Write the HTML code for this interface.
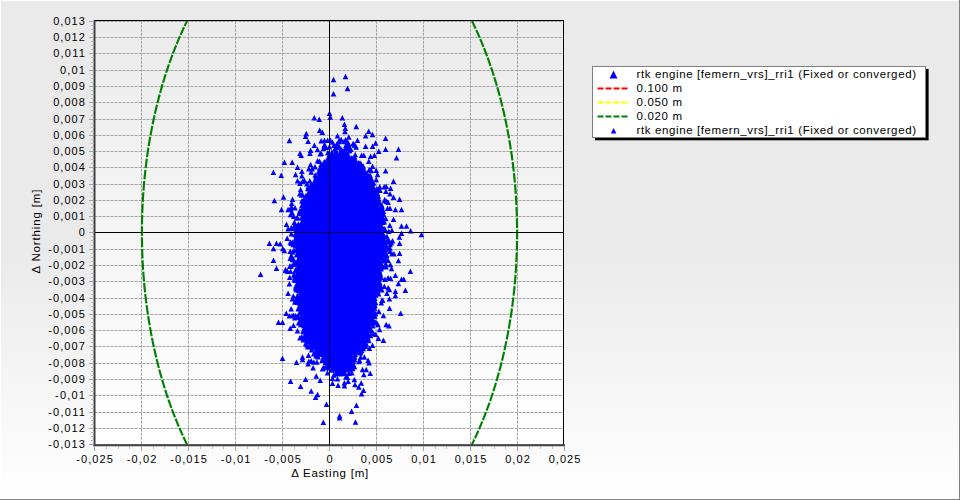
<!DOCTYPE html>
<html><head><meta charset="utf-8"><title>chart</title>
<style>html,body{margin:0;padding:0;background:#fff;}body{width:960px;height:500px;overflow:hidden;}svg{display:block;}text{font-family:"Liberation Sans",sans-serif;font-size:11.5px;fill:#000;}text.a{font-size:11px;}</style>
</head><body>
<svg width="960" height="500" viewBox="0 0 960 500">
<defs>
<linearGradient id="pg" x1="0" y1="0" x2="0" y2="1"><stop offset="0" stop-color="#eaeaea"/><stop offset="0.5" stop-color="#eaeaea"/><stop offset="1" stop-color="#ffffff"/></linearGradient>
<linearGradient id="wg" x1="0" y1="0" x2="0" y2="1"><stop offset="0" stop-color="#ebebeb"/><stop offset="1" stop-color="#ffffff"/></linearGradient>
<clipPath id="pc"><rect x="95" y="21" width="469" height="424"/></clipPath>
</defs>
<rect x="0" y="0" width="960" height="500" fill="url(#pg)"/>
<rect x="0" y="0" width="960" height="1" fill="#ffffff"/>
<rect x="0" y="0" width="1" height="500" fill="#ffffff"/>
<rect x="0" y="499" width="960" height="1" fill="#808080"/>
<rect x="959" y="0" width="1" height="500" fill="#808080"/>
<rect x="95" y="21" width="469" height="424" fill="url(#wg)"/>
<path d="M94.6 21.5H564M94.6 37.5H564M94.6 53.5H564M94.6 70.5H564M94.6 86.5H564M94.6 102.5H564M94.6 119.5H564M94.6 135.5H564M94.6 151.5H564M94.6 167.5H564M94.6 184.5H564M94.6 200.5H564M94.6 216.5H564M94.6 249.5H564M94.6 265.5H564M94.6 281.5H564M94.6 298.5H564M94.6 314.5H564M94.6 330.5H564M94.6 346.5H564M94.6 363.5H564M94.6 379.5H564M94.6 395.5H564M94.6 412.5H564M94.6 428.5H564M94.6 444.5H564" stroke="#a4a4a4" stroke-width="1" stroke-dasharray="3 1" fill="none"/>
<path d="M141.5 20.75V445M188.5 20.75V445M235.5 20.75V445M282.5 20.75V445M376.5 20.75V445M423.5 20.75V445M470.5 20.75V445M517.5 20.75V445" stroke="#a4a4a4" stroke-width="1" stroke-dasharray="3 1" fill="none"/>
<path d="M95 232.5H564M329.5 21V445" stroke="#000" stroke-width="1" fill="none"/>
<g clip-path="url(#pc)"><path d="M517.06 239.28L517.08 236.87L517.10 234.45L517.10 232.04L517.09 229.63M517.08 227.92L517.05 225.51L517.02 223.10L516.97 220.68L516.91 218.27M516.87 216.57L516.79 214.16L516.71 211.75L516.61 209.34L516.51 206.94M516.43 205.24L516.31 202.84L516.17 200.43L516.03 198.03L515.88 195.63M515.76 193.94L515.59 191.55L515.41 189.15L515.22 186.76L515.02 184.37M514.87 182.69L514.65 180.31L514.42 177.93L514.18 175.55L513.93 173.17M513.75 171.50L513.48 169.13L513.20 166.77L512.91 164.40L512.62 162.05M512.40 160.38L512.09 158.03L511.76 155.69L511.43 153.34L511.08 151.01M510.83 149.36L510.47 147.03L510.10 144.70L509.72 142.38L509.33 140.06M509.05 138.43L508.64 136.12L508.22 133.82L507.79 131.53L507.35 129.23M507.04 127.62L506.58 125.34L506.12 123.06L505.65 120.80L505.16 118.53M504.82 116.94L504.31 114.69L503.81 112.44L503.29 110.20L502.76 107.97M502.38 106.40L501.83 104.18L501.28 101.96L500.71 99.76L500.14 97.56M499.73 96.01L499.14 93.82L498.54 91.64L497.93 89.47L497.32 87.31M496.88 85.79L496.24 83.64L495.60 81.50L494.95 79.37L494.29 77.24M493.82 75.75L493.14 73.64L492.46 71.54L491.76 69.44L491.06 67.36M490.56 65.90L489.84 63.83L489.11 61.77L488.38 59.72L487.63 57.68M487.10 56.25L486.34 54.23L485.57 52.21L484.80 50.21L484.01 48.22M483.45 46.82L482.65 44.84L481.85 42.88L481.03 40.92L480.21 38.98M479.62 37.61L478.78 35.68L477.93 33.77L477.08 31.86L476.22 29.97M475.60 28.64L474.72 26.77L473.84 24.91L472.95 23.05L472.05 21.21M471.41 19.92L470.49 18.10L469.57 16.29L468.64 14.50L467.70 12.71M467.04 11.46L466.09 9.70L465.13 7.95L464.16 6.21L463.19 4.48M462.50 3.27L461.52 1.57L460.52 -0.12L459.52 -1.80L458.52 -3.47M457.80 -4.64L456.78 -6.28L455.76 -7.91L454.72 -9.53L453.68 -11.14M452.95 -12.26L451.90 -13.84L450.84 -15.41L449.77 -16.96L448.70 -18.50M447.94 -19.58L446.86 -21.10L445.77 -22.60L444.68 -24.09L443.57 -25.57M442.79 -26.60L441.68 -28.05L440.56 -29.49L439.44 -30.91L438.31 -32.31M437.50 -33.30L436.36 -34.68L435.22 -36.05L434.07 -37.40L432.91 -38.74M432.09 -39.68L430.92 -40.99L429.74 -42.28L428.57 -43.57L427.38 -44.83M426.54 -45.72L425.35 -46.96L424.15 -48.19L422.95 -49.40L421.74 -50.59M420.88 -51.42L419.66 -52.59L418.44 -53.74L417.21 -54.88L415.98 -56.00M415.11 -56.78L413.87 -57.87L412.62 -58.95L411.37 -60.01L410.12 -61.06M409.23 -61.79L407.97 -62.80L406.70 -63.81L405.43 -64.79L404.16 -65.76M403.25 -66.43L401.97 -67.37L400.69 -68.30L399.40 -69.21L398.10 -70.10M397.19 -70.72L395.89 -71.58L394.59 -72.42L393.28 -73.25L391.97 -74.07M391.04 -74.63L389.72 -75.41L388.40 -76.18L387.08 -76.93L385.76 -77.66M384.82 -78.17L383.49 -78.87L382.15 -79.56L380.82 -80.22L379.48 -80.88M378.53 -81.33L377.18 -81.95L375.84 -82.55L374.49 -83.14L373.14 -83.71M372.18 -84.10L370.82 -84.64L369.46 -85.16L368.10 -85.67L366.74 -86.16M365.78 -86.49L364.41 -86.95L363.04 -87.39L361.67 -87.81L360.30 -88.22M359.33 -88.49L357.96 -88.87L356.58 -89.23L355.20 -89.57L353.82 -89.89M352.85 -90.10L351.47 -90.40L350.09 -90.67L348.70 -90.92L347.32 -91.16M346.34 -91.32L344.95 -91.53L343.57 -91.72L342.18 -91.89L340.79 -92.04M339.81 -92.14L338.42 -92.27L337.03 -92.37L335.64 -92.46L334.25 -92.53M333.27 -92.57L331.87 -92.61L330.48 -92.63L329.09 -92.63L327.70 -92.62M326.72 -92.60L325.33 -92.55L323.93 -92.49L322.54 -92.41L321.15 -92.31M320.17 -92.23L318.78 -92.10L317.39 -91.96L316.01 -91.79L314.62 -91.61M313.64 -91.47L312.25 -91.26L310.87 -91.03L309.48 -90.78L308.10 -90.51M307.12 -90.31L305.74 -90.01L304.36 -89.70L302.99 -89.37L301.61 -89.02M300.64 -88.76L299.26 -88.38L297.89 -87.98L296.52 -87.57L295.15 -87.13M294.19 -86.82L292.82 -86.35L291.46 -85.87L290.10 -85.38L288.74 -84.86M287.78 -84.48L286.42 -83.94L285.07 -83.38L283.72 -82.80L282.37 -82.20M281.42 -81.77L280.08 -81.14L278.74 -80.49L277.40 -79.83L276.06 -79.15M275.12 -78.66L273.79 -77.96L272.46 -77.23L271.14 -76.49L269.82 -75.73M268.89 -75.18L267.57 -74.39L266.26 -73.59L264.95 -72.77L263.65 -71.93M262.73 -71.33L261.43 -70.46L260.14 -69.57L258.84 -68.67L257.56 -67.76M256.65 -67.10L255.37 -66.15L254.09 -65.19L252.82 -64.21L251.55 -63.22M250.66 -62.51L249.40 -61.48L248.15 -60.45L246.89 -59.39L245.65 -58.32M244.77 -57.56L243.53 -56.46L242.30 -55.34L241.07 -54.21L239.84 -53.07M238.98 -52.25L237.76 -51.08L236.55 -49.89L235.35 -48.69L234.14 -47.47M233.30 -46.60L232.11 -45.35L230.92 -44.09L229.74 -42.81L228.56 -41.52M227.74 -40.60L226.57 -39.29L225.41 -37.95L224.26 -36.61L223.11 -35.25M222.30 -34.28L221.16 -32.89L220.03 -31.49L218.90 -30.07L217.78 -28.64M216.99 -27.62L215.88 -26.17L214.78 -24.70L213.68 -23.22L212.59 -21.72M211.82 -20.66L210.74 -19.14L209.67 -17.60L208.60 -16.05L207.54 -14.49M206.79 -13.38L205.75 -11.79L204.70 -10.19L203.67 -8.58L202.64 -6.96M201.92 -5.80L200.90 -4.15L199.89 -2.49L198.89 -0.82L197.89 0.87M197.19 2.07L196.21 3.78L195.24 5.50L194.27 7.23L193.31 8.98M192.63 10.22L191.69 11.98L190.75 13.76L189.81 15.55L188.89 17.36M188.24 18.64L187.33 20.46L186.42 22.29L185.53 24.14L184.64 26.00M184.02 27.32L183.14 29.20L182.28 31.08L181.42 32.98L180.57 34.89M179.97 36.25L179.14 38.18L178.31 40.12L177.49 42.07L176.68 44.03M176.11 45.42L175.31 47.40L174.52 49.39L173.74 51.39L172.97 53.40M172.43 54.82L171.68 56.84L170.93 58.88L170.19 60.93L169.46 62.98M168.95 64.44L168.23 66.51L167.53 68.58L166.83 70.67L166.14 72.77M165.66 74.26L164.99 76.37L164.32 78.49L163.67 80.62L163.02 82.76M162.57 84.27L161.94 86.42L161.32 88.58L160.71 90.75L160.10 92.92M159.68 94.47L159.10 96.65L158.52 98.85L157.95 101.05L157.39 103.26M157.01 104.83L156.46 107.05L155.93 109.28L155.41 111.52L154.89 113.76M154.54 115.35L154.04 117.60L153.55 119.86L153.07 122.13L152.61 124.40M152.28 126.01L151.83 128.29L151.39 130.58L150.96 132.88L150.53 135.18M150.24 136.80L149.84 139.11L149.44 141.43L149.05 143.74L148.68 146.07M148.42 147.71L148.06 150.04L147.71 152.38L147.37 154.72L147.05 157.07M146.82 158.72L146.51 161.08L146.21 163.43L145.91 165.79L145.63 168.16M145.44 169.83L145.18 172.20L144.92 174.57L144.68 176.95L144.45 179.33M144.29 181.01L144.07 183.39L143.86 185.78L143.67 188.17L143.48 190.56M143.36 192.25L143.19 194.65L143.03 197.04L142.89 199.44L142.75 201.85M142.66 203.54L142.54 205.95L142.43 208.35L142.33 210.76L142.24 213.17M142.18 214.87L142.11 217.28L142.05 219.69L142.00 222.10L141.96 224.52M141.94 226.22L141.92 228.63L141.90 231.05L141.90 233.46L141.91 235.87M141.92 237.58L141.95 239.99L141.98 242.40L142.03 244.82L142.09 247.23M142.13 248.93L142.21 251.34L142.29 253.75L142.39 256.16L142.49 258.56M142.57 260.26L142.69 262.66L142.83 265.07L142.97 267.47L143.12 269.87M143.24 271.56L143.41 273.95L143.59 276.35L143.78 278.74L143.98 281.13M144.13 282.81L144.35 285.19L144.58 287.57L144.82 289.95L145.07 292.33M145.25 294.00L145.52 296.37L145.80 298.73L146.09 301.10L146.38 303.45M146.60 305.12L146.91 307.47L147.24 309.81L147.57 312.16L147.92 314.49M148.17 316.14L148.53 318.47L148.90 320.80L149.28 323.12L149.67 325.44M149.95 327.07L150.36 329.38L150.78 331.68L151.21 333.97L151.65 336.27M151.96 337.88L152.42 340.16L152.88 342.44L153.35 344.70L153.84 346.97M154.18 348.56L154.69 350.81L155.19 353.06L155.71 355.30L156.24 357.53M156.62 359.10L157.17 361.32L157.72 363.54L158.29 365.74L158.86 367.94M159.27 369.49L159.86 371.68L160.46 373.86L161.07 376.03L161.68 378.19M162.12 379.71L162.76 381.86L163.40 384.00L164.05 386.13L164.71 388.26M165.18 389.75L165.86 391.86L166.54 393.96L167.24 396.06L167.94 398.14M168.44 399.60L169.16 401.67L169.89 403.73L170.62 405.78L171.37 407.82M171.90 409.25L172.66 411.27L173.43 413.29L174.20 415.29L174.99 417.28M175.55 418.68L176.35 420.66L177.15 422.62L177.97 424.58L178.79 426.52M179.38 427.89L180.22 429.82L181.07 431.73L181.92 433.64L182.78 435.53M183.40 436.86L184.28 438.73L185.16 440.59L186.05 442.45L186.95 444.29M187.59 445.58L188.51 447.40L189.43 449.21L190.36 451.00L191.30 452.79M191.96 454.04L192.91 455.80L193.87 457.55L194.84 459.29L195.81 461.02M196.50 462.23L197.48 463.93L198.48 465.62L199.48 467.30L200.48 468.97M201.20 470.14L202.22 471.78L203.24 473.41L204.28 475.03L205.32 476.64M206.05 477.76L207.10 479.34L208.16 480.91L209.23 482.46L210.30 484.00M211.06 485.08L212.14 486.60L213.23 488.10L214.32 489.59L215.43 491.07M216.21 492.10L217.32 493.55L218.44 494.99L219.56 496.41L220.69 497.81M221.50 498.80L222.64 500.18L223.78 501.55L224.93 502.90L226.09 504.24M226.91 505.18L228.08 506.49L229.26 507.78L230.43 509.07L231.62 510.33M232.46 511.22L233.65 512.46L234.85 513.69L236.05 514.90L237.26 516.09M238.12 516.92L239.34 518.09L240.56 519.24L241.79 520.38L243.02 521.50M243.89 522.28L245.13 523.37L246.38 524.45L247.63 525.51L248.88 526.56M249.77 527.29L251.03 528.30L252.30 529.31L253.57 530.29L254.84 531.26M255.75 531.93L257.03 532.87L258.31 533.80L259.60 534.71L260.90 535.60M261.81 536.22L263.11 537.08L264.41 537.92L265.72 538.75L267.03 539.57M267.96 540.13L269.28 540.91L270.60 541.68L271.92 542.43L273.24 543.16M274.18 543.67L275.51 544.37L276.85 545.06L278.18 545.72L279.52 546.38M280.47 546.83L281.82 547.45L283.16 548.05L284.51 548.64L285.86 549.21M286.82 549.60L288.18 550.14L289.54 550.66L290.90 551.17L292.26 551.66M293.22 551.99L294.59 552.45L295.96 552.89L297.33 553.31L298.70 553.72M299.67 553.99L301.04 554.37L302.42 554.73L303.80 555.07L305.18 555.39M306.15 555.60L307.53 555.90L308.91 556.17L310.30 556.42L311.68 556.66M312.66 556.82L314.05 557.03L315.43 557.22L316.82 557.39L318.21 557.54M319.19 557.64L320.58 557.77L321.97 557.87L323.36 557.96L324.75 558.03M325.73 558.07L327.13 558.11L328.52 558.13L329.91 558.13L331.30 558.12M332.28 558.10L333.67 558.05L335.07 557.99L336.46 557.91L337.85 557.81M338.83 557.73L340.22 557.60L341.61 557.46L342.99 557.29L344.38 557.11M345.36 556.97L346.75 556.76L348.13 556.53L349.52 556.28L350.90 556.01M351.88 555.81L353.26 555.51L354.64 555.20L356.01 554.87L357.39 554.52M358.36 554.26L359.74 553.88L361.11 553.48L362.48 553.07L363.85 552.63M364.81 552.32L366.18 551.85L367.54 551.37L368.90 550.88L370.26 550.36M371.22 549.98L372.58 549.44L373.93 548.88L375.28 548.30L376.63 547.70M377.58 547.27L378.92 546.64L380.26 545.99L381.60 545.33L382.94 544.65M383.88 544.16L385.21 543.46L386.54 542.73L387.86 541.99L389.18 541.23M390.11 540.68L391.43 539.89L392.74 539.09L394.05 538.27L395.35 537.43M396.27 536.83L397.57 535.96L398.86 535.07L400.16 534.17L401.44 533.26M402.35 532.60L403.63 531.65L404.91 530.69L406.18 529.71L407.45 528.72M408.34 528.01L409.60 526.98L410.85 525.95L412.11 524.89L413.35 523.82M414.23 523.06L415.47 521.96L416.70 520.84L417.93 519.71L419.16 518.57M420.02 517.75L421.24 516.58L422.45 515.39L423.65 514.19L424.86 512.97M425.70 512.10L426.89 510.85L428.08 509.59L429.26 508.31L430.44 507.02M431.26 506.10L432.43 504.79L433.59 503.45L434.74 502.11L435.89 500.75M436.70 499.78L437.84 498.39L438.97 496.99L440.10 495.57L441.22 494.14M442.01 493.12L443.12 491.67L444.22 490.20L445.32 488.72L446.41 487.22M447.18 486.16L448.26 484.64L449.33 483.10L450.40 481.55L451.46 479.99M452.21 478.88L453.25 477.29L454.30 475.69L455.33 474.08L456.36 472.46M457.08 471.30L458.10 469.65L459.11 467.99L460.11 466.32L461.11 464.63M461.81 463.43L462.79 461.72L463.76 460.00L464.73 458.27L465.69 456.52M466.37 455.28L467.31 453.52L468.25 451.74L469.19 449.95L470.11 448.14M470.76 446.86L471.67 445.04L472.58 443.21L473.47 441.36L474.36 439.50M474.98 438.18L475.86 436.30L476.72 434.42L477.58 432.52L478.43 430.61M479.03 429.25L479.86 427.32L480.69 425.38L481.51 423.43L482.32 421.47M482.89 420.08L483.69 418.10L484.48 416.11L485.26 414.11L486.03 412.10M486.57 410.68L487.32 408.66L488.07 406.62L488.81 404.57L489.54 402.52M490.05 401.06L490.77 398.99L491.47 396.92L492.17 394.83L492.86 392.73M493.34 391.24L494.01 389.13L494.68 387.01L495.33 384.88L495.98 382.74M496.43 381.23L497.06 379.08L497.68 376.92L498.29 374.75L498.90 372.58M499.32 371.03L499.90 368.85L500.48 366.65L501.05 364.45L501.61 362.24M501.99 360.67L502.54 358.45L503.07 356.22L503.59 353.98L504.11 351.74M504.46 350.15L504.96 347.90L505.45 345.64L505.93 343.37L506.39 341.10M506.72 339.49L507.17 337.21L507.61 334.92L508.04 332.62L508.47 330.32M508.76 328.70L509.16 326.39L509.56 324.07L509.95 321.76L510.32 319.43M510.58 317.79L510.94 315.46L511.29 313.12L511.63 310.78L511.95 308.43M512.18 306.78L512.49 304.42L512.79 302.07L513.09 299.71L513.37 297.34M513.56 295.67L513.82 293.30L514.08 290.93L514.32 288.55L514.55 286.17M514.71 284.49L514.93 282.11L515.14 279.72L515.33 277.33L515.52 274.94M515.64 273.25L515.81 270.85L515.97 268.46L516.11 266.06L516.25 263.65M516.34 261.96L516.46 259.55L516.57 257.15L516.67 254.74L516.76 252.33M516.82 250.63L516.89 248.22L516.95 245.81L517.00 243.40L517.04 240.98M517.06 239.28L517.08 236.87L517.10 234.45L517.10 232.04L517.09 229.63" stroke="#008000" stroke-width="2.15" fill="none"/></g>
<g clip-path="url(#pc)" fill="#0000ff">
<path d="M341.3 153.4L346.0 155.3L351.2 158.7L358.8 165.8L365.9 178.1L370.6 184.7L375.3 191.5L379.1 198.3L377.2 206.2L379.1 212.0L381.0 218.4L380.0 230.6L382.4 236.5L384.3 242.4L384.8 246.5L383.3 252.6L380.0 258.7L379.6 264.8L380.5 271.0L380.0 283.2L376.5 289.3L375.8 295.2L373.9 301.0L371.8 305.2L372.4 317.4L370.6 323.5L367.0 329.6L365.3 335.7L362.6 341.9L362.1 344.3L358.3 350.4L354.5 356.5L354.1 362.6L350.3 368.5L342.7 372.4L335.2 368.5L328.6 362.6L321.9 356.5L317.2 350.4L310.1 344.3L307.8 338.2L304.5 334.5L305.7 328.4L303.9 322.3L302.6 316.2L300.3 310.1L302.1 304.0L302.6 297.8L299.8 291.7L298.6 285.6L297.9 279.5L297.9 269.7L298.6 263.6L298.6 251.4L296.9 245.3L297.4 239.2L297.9 233.1L300.9 227.0L302.1 220.8L301.6 217.2L302.1 211.1L303.3 205.0L307.3 198.8L309.7 192.7L313.0 186.6L315.8 180.5L319.1 174.4L322.4 168.3L325.7 162.2L329.5 158.3L333.8 153.9z"/>
<path d="M289.4 137.8l2.8 5.5h-5.6zM305.6 133.6l2.8 5.5h-5.6zM308.1 138.6l2.8 5.5h-5.6zM300.0 150.5l2.8 5.5h-5.6zM301.2 152.4l2.8 5.5h-5.6zM310.6 147.4l2.8 5.5h-5.6zM310.0 150.5l2.8 5.5h-5.6zM284.4 159.5l2.8 5.5h-5.6zM292.2 159.5l2.8 5.5h-5.6zM310.6 161.8l2.8 5.5h-5.6zM297.5 164.5l2.8 5.5h-5.6zM295.6 171.8l2.8 5.5h-5.6zM301.9 168.6l2.8 5.5h-5.6zM281.2 172.4l2.8 5.5h-5.6zM297.5 178.0l2.8 5.5h-5.6zM301.9 173.0l2.8 5.5h-5.6zM306.9 181.1l2.8 5.5h-5.6zM357.5 137.4l2.8 5.5h-5.6zM365.6 133.0l2.8 5.5h-5.6zM372.5 131.8l2.8 5.5h-5.6zM385.6 135.5l2.8 5.5h-5.6zM365.6 143.6l2.8 5.5h-5.6zM375.6 140.2l2.8 5.5h-5.6zM372.5 143.6l2.8 5.5h-5.6zM385.6 146.5l2.8 5.5h-5.6zM378.8 148.6l2.8 5.5h-5.6zM398.5 146.5l2.8 5.5h-5.6zM396.5 154.9l2.8 5.5h-5.6zM374.4 152.4l2.8 5.5h-5.6zM370.6 153.6l2.8 5.5h-5.6zM363.8 152.4l2.8 5.5h-5.6zM368.8 158.6l2.8 5.5h-5.6zM372.5 163.6l2.8 5.5h-5.6zM376.2 167.4l2.8 5.5h-5.6zM385.6 168.0l2.8 5.5h-5.6zM377.5 171.8l2.8 5.5h-5.6zM376.2 176.8l2.8 5.5h-5.6zM393.5 178.6l2.8 5.5h-5.6zM386.2 183.6l2.8 5.5h-5.6zM390.6 185.5l2.8 5.5h-5.6zM337.5 133.0l2.8 5.5h-5.6zM321.2 138.0l2.8 5.5h-5.6zM324.4 137.4l2.8 5.5h-5.6zM332.5 139.2l2.8 5.5h-5.6zM341.2 136.8l2.8 5.5h-5.6zM348.8 134.2l2.8 5.5h-5.6zM356.2 144.2l2.8 5.5h-5.6zM317.5 158.0l2.8 5.5h-5.6zM321.2 150.5l2.8 5.5h-5.6zM317.5 146.8l2.8 5.5h-5.6zM314.4 142.4l2.8 5.5h-5.6zM385.9 188.6l2.8 5.5h-5.6zM390.0 191.1l2.8 5.5h-5.6zM393.5 194.6l2.8 5.5h-5.6zM399.6 196.5l2.8 5.5h-5.6zM388.1 199.6l2.8 5.5h-5.6zM387.5 205.5l2.8 5.5h-5.6zM390.0 205.5l2.8 5.5h-5.6zM395.4 206.8l2.8 5.5h-5.6zM401.5 206.8l2.8 5.5h-5.6zM393.5 216.5l2.8 5.5h-5.6zM389.8 222.4l2.8 5.5h-5.6zM401.5 223.2l2.8 5.5h-5.6zM406.5 223.2l2.8 5.5h-5.6zM385.2 226.8l2.8 5.5h-5.6zM391.9 227.4l2.8 5.5h-5.6zM410.6 228.0l2.8 5.5h-5.6zM401.5 230.5l2.8 5.5h-5.6zM421.5 231.8l2.8 5.5h-5.6zM399.4 234.2l2.8 5.5h-5.6zM386.9 233.6l2.8 5.5h-5.6zM392.5 238.0l2.8 5.5h-5.6zM399.6 240.5l2.8 5.5h-5.6zM390.0 241.8l2.8 5.5h-5.6zM391.9 251.1l2.8 5.5h-5.6zM394.0 251.1l2.8 5.5h-5.6zM399.6 250.5l2.8 5.5h-5.6zM398.4 257.8l2.8 5.5h-5.6zM388.1 257.4l2.8 5.5h-5.6zM390.4 261.8l2.8 5.5h-5.6zM391.5 265.8l2.8 5.5h-5.6zM410.4 268.6l2.8 5.5h-5.6zM395.4 272.4l2.8 5.5h-5.6zM388.1 274.9l2.8 5.5h-5.6zM390.6 275.5l2.8 5.5h-5.6zM401.5 276.5l2.8 5.5h-5.6zM403.8 276.5l2.8 5.5h-5.6zM398.4 280.8l2.8 5.5h-5.6zM388.1 284.9l2.8 5.5h-5.6zM389.4 286.8l2.8 5.5h-5.6zM381.2 286.8l2.8 5.5h-5.6zM405.4 287.4l2.8 5.5h-5.6zM395.4 288.6l2.8 5.5h-5.6zM395.4 292.8l2.8 5.5h-5.6zM386.9 290.5l2.8 5.5h-5.6zM389.4 296.1l2.8 5.5h-5.6zM389.6 305.5l2.8 5.5h-5.6zM400.6 310.5l2.8 5.5h-5.6zM383.4 312.8l2.8 5.5h-5.6zM378.8 308.6l2.8 5.5h-5.6zM386.2 321.8l2.8 5.5h-5.6zM389.0 323.0l2.8 5.5h-5.6zM377.9 321.8l2.8 5.5h-5.6zM379.6 326.8l2.8 5.5h-5.6zM373.5 330.5l2.8 5.5h-5.6zM378.4 335.5l2.8 5.5h-5.6zM383.4 337.4l2.8 5.5h-5.6zM372.5 342.4l2.8 5.5h-5.6zM369.4 345.5l2.8 5.5h-5.6zM364.4 354.2l2.8 5.5h-5.6zM360.6 354.2l2.8 5.5h-5.6zM368.1 357.4l2.8 5.5h-5.6zM282.5 355.5l2.8 5.5h-5.6zM296.5 359.5l2.8 5.5h-5.6zM302.5 354.2l2.8 5.5h-5.6zM302.5 356.8l2.8 5.5h-5.6zM308.5 352.4l2.8 5.5h-5.6zM308.8 358.6l2.8 5.5h-5.6zM308.1 361.1l2.8 5.5h-5.6zM311.2 358.0l2.8 5.5h-5.6zM313.8 359.2l2.8 5.5h-5.6zM316.9 359.2l2.8 5.5h-5.6zM313.1 364.9l2.8 5.5h-5.6zM322.5 366.1l2.8 5.5h-5.6zM327.5 369.9l2.8 5.5h-5.6zM316.2 373.2l2.8 5.5h-5.6zM320.2 377.4l2.8 5.5h-5.6zM305.6 376.5l2.8 5.5h-5.6zM290.6 378.6l2.8 5.5h-5.6zM300.6 383.6l2.8 5.5h-5.6zM311.2 388.2l2.8 5.5h-5.6zM317.5 391.8l2.8 5.5h-5.6zM315.6 394.5l2.8 5.5h-5.6zM332.5 375.5l2.8 5.5h-5.6zM337.5 376.1l2.8 5.5h-5.6zM332.5 380.5l2.8 5.5h-5.6zM338.1 382.4l2.8 5.5h-5.6zM344.4 379.9l2.8 5.5h-5.6zM344.4 383.0l2.8 5.5h-5.6zM348.1 378.6l2.8 5.5h-5.6zM354.4 376.8l2.8 5.5h-5.6zM348.8 370.5l2.8 5.5h-5.6zM345.0 370.5l2.8 5.5h-5.6zM355.0 381.8l2.8 5.5h-5.6zM358.8 384.2l2.8 5.5h-5.6zM361.2 380.2l2.8 5.5h-5.6zM363.5 387.4l2.8 5.5h-5.6zM361.5 391.1l2.8 5.5h-5.6zM362.5 366.8l2.8 5.5h-5.6zM366.2 366.8l2.8 5.5h-5.6zM363.8 371.8l2.8 5.5h-5.6zM370.2 370.5l2.8 5.5h-5.6zM369.0 359.9l2.8 5.5h-5.6zM365.6 343.6l2.8 5.5h-5.6zM336.9 363.0l2.8 5.5h-5.6zM338.8 366.8l2.8 5.5h-5.6zM289.4 281.1l2.8 5.5h-5.6zM288.1 290.5l2.8 5.5h-5.6zM292.5 296.1l2.8 5.5h-5.6zM291.2 306.1l2.8 5.5h-5.6zM286.2 310.5l2.8 5.5h-5.6zM289.4 313.0l2.8 5.5h-5.6zM278.5 319.5l2.8 5.5h-5.6zM282.5 319.5l2.8 5.5h-5.6zM293.5 322.4l2.8 5.5h-5.6zM290.2 325.5l2.8 5.5h-5.6zM297.5 328.0l2.8 5.5h-5.6zM300.0 334.9l2.8 5.5h-5.6zM295.0 299.2l2.8 5.5h-5.6zM295.6 313.0l2.8 5.5h-5.6zM286.5 221.5l2.8 5.5h-5.6zM294.4 219.5l2.8 5.5h-5.6zM288.1 226.1l2.8 5.5h-5.6zM293.1 225.5l2.8 5.5h-5.6zM287.2 235.5l2.8 5.5h-5.6zM269.4 240.5l2.8 5.5h-5.6zM276.5 240.5l2.8 5.5h-5.6zM280.2 241.1l2.8 5.5h-5.6zM273.5 245.8l2.8 5.5h-5.6zM282.8 245.8l2.8 5.5h-5.6zM284.4 247.8l2.8 5.5h-5.6zM290.2 248.6l2.8 5.5h-5.6zM292.5 249.2l2.8 5.5h-5.6zM273.5 257.4l2.8 5.5h-5.6zM290.2 255.5l2.8 5.5h-5.6zM292.5 256.8l2.8 5.5h-5.6zM276.5 265.5l2.8 5.5h-5.6zM289.8 263.6l2.8 5.5h-5.6zM285.6 266.8l2.8 5.5h-5.6zM287.5 268.6l2.8 5.5h-5.6zM290.6 268.6l2.8 5.5h-5.6zM260.6 271.5l2.8 5.5h-5.6zM289.8 274.5l2.8 5.5h-5.6zM291.2 240.5l2.8 5.5h-5.6zM308.8 166.1l2.8 5.5h-5.6zM273.4 169.5l2.8 5.5h-5.6zM304.4 177.4l2.8 5.5h-5.6zM300.0 180.5l2.8 5.5h-5.6zM300.6 186.8l2.8 5.5h-5.6zM283.5 194.2l2.8 5.5h-5.6zM274.4 197.8l2.8 5.5h-5.6zM292.5 196.5l2.8 5.5h-5.6zM301.9 198.0l2.8 5.5h-5.6zM281.5 206.8l2.8 5.5h-5.6zM288.1 206.8l2.8 5.5h-5.6zM290.6 206.1l2.8 5.5h-5.6zM295.0 204.9l2.8 5.5h-5.6zM290.6 211.8l2.8 5.5h-5.6zM293.8 213.6l2.8 5.5h-5.6zM311.2 169.2l2.8 5.5h-5.6zM302.5 191.8l2.8 5.5h-5.6zM333.5 76.8l2.8 5.5h-5.6zM345.5 73.8l2.8 5.5h-5.6zM347.5 85.8l2.8 5.5h-5.6zM333.5 90.9l2.8 5.5h-5.6zM329.5 110.4l2.8 5.5h-5.6zM330.3 114.2l2.8 5.5h-5.6zM314.3 114.9l2.8 5.5h-5.6zM319.3 116.6l2.8 5.5h-5.6zM342.3 114.9l2.8 5.5h-5.6zM344.5 121.4l2.8 5.5h-5.6zM356.3 123.8l2.8 5.5h-5.6zM345.3 125.4l2.8 5.5h-5.6zM345.0 128.8l2.8 5.5h-5.6zM319.7 127.6l2.8 5.5h-5.6zM322.3 129.6l2.8 5.5h-5.6zM306.3 130.8l2.8 5.5h-5.6zM368.7 128.6l2.8 5.5h-5.6zM382.6 297.2l2.8 5.5h-5.6zM326.5 401.5l2.8 5.5h-5.6zM356.4 402.4l2.8 5.5h-5.6zM351.6 408.6l2.8 5.5h-5.6zM339.6 413.1l2.8 5.5h-5.6zM323.3 419.6l2.8 5.5h-5.6zM355.5 419.3l2.8 5.5h-5.6zM373.9 294.0l2.8 5.5h-5.6zM301.9 307.2l2.8 5.5h-5.6zM325.9 356.3l2.8 5.5h-5.6zM362.7 169.0l2.8 5.5h-5.6zM356.6 160.8l2.8 5.5h-5.6zM364.4 174.9l2.8 5.5h-5.6zM363.6 343.5l2.8 5.5h-5.6zM377.6 197.1l2.8 5.5h-5.6zM298.7 320.1l2.8 5.5h-5.6zM311.3 341.6l2.8 5.5h-5.6zM331.7 154.7l2.8 5.5h-5.6zM303.3 205.6l2.8 5.5h-5.6zM377.4 207.6l2.8 5.5h-5.6zM378.8 287.1l2.8 5.5h-5.6zM380.7 225.3l2.8 5.5h-5.6zM303.1 313.3l2.8 5.5h-5.6zM322.4 351.6l2.8 5.5h-5.6zM362.1 170.3l2.8 5.5h-5.6zM302.2 293.2l2.8 5.5h-5.6zM376.6 289.7l2.8 5.5h-5.6zM353.7 354.6l2.8 5.5h-5.6zM296.1 236.7l2.8 5.5h-5.6zM380.5 255.6l2.8 5.5h-5.6zM327.4 362.7l2.8 5.5h-5.6zM298.6 269.2l2.8 5.5h-5.6zM332.9 153.2l2.8 5.5h-5.6zM364.2 339.5l2.8 5.5h-5.6zM379.8 211.0l2.8 5.5h-5.6zM358.1 160.5l2.8 5.5h-5.6zM298.1 251.6l2.8 5.5h-5.6zM306.4 198.1l2.8 5.5h-5.6zM298.8 286.4l2.8 5.5h-5.6zM310.2 340.9l2.8 5.5h-5.6zM296.6 215.3l2.8 5.5h-5.6zM351.8 364.8l2.8 5.5h-5.6zM364.3 169.6l2.8 5.5h-5.6zM292.0 312.9l2.8 5.5h-5.6zM301.7 223.8l2.8 5.5h-5.6zM369.3 324.6l2.8 5.5h-5.6zM351.2 155.6l2.8 5.5h-5.6zM379.5 218.8l2.8 5.5h-5.6zM364.4 168.6l2.8 5.5h-5.6zM377.1 199.9l2.8 5.5h-5.6zM369.9 327.9l2.8 5.5h-5.6zM368.5 178.8l2.8 5.5h-5.6zM318.1 353.9l2.8 5.5h-5.6zM297.6 223.4l2.8 5.5h-5.6zM380.0 272.6l2.8 5.5h-5.6zM375.7 311.1l2.8 5.5h-5.6zM325.7 161.4l2.8 5.5h-5.6zM379.5 222.9l2.8 5.5h-5.6zM382.7 250.7l2.8 5.5h-5.6zM309.2 336.3l2.8 5.5h-5.6zM343.1 151.1l2.8 5.5h-5.6zM372.1 316.6l2.8 5.5h-5.6zM322.5 162.3l2.8 5.5h-5.6zM332.7 364.0l2.8 5.5h-5.6zM303.9 295.4l2.8 5.5h-5.6zM309.4 185.9l2.8 5.5h-5.6zM303.8 196.9l2.8 5.5h-5.6zM366.6 326.9l2.8 5.5h-5.6zM375.9 187.7l2.8 5.5h-5.6zM362.5 171.6l2.8 5.5h-5.6zM383.1 239.0l2.8 5.5h-5.6zM370.6 301.2l2.8 5.5h-5.6zM341.0 151.2l2.8 5.5h-5.6zM374.3 187.6l2.8 5.5h-5.6zM354.6 154.1l2.8 5.5h-5.6zM306.7 325.7l2.8 5.5h-5.6zM379.2 259.5l2.8 5.5h-5.6zM371.2 314.1l2.8 5.5h-5.6zM292.0 209.4l2.8 5.5h-5.6zM353.2 360.8l2.8 5.5h-5.6zM369.2 181.6l2.8 5.5h-5.6zM371.0 303.2l2.8 5.5h-5.6zM302.7 220.4l2.8 5.5h-5.6zM355.2 151.7l2.8 5.5h-5.6zM329.2 358.4l2.8 5.5h-5.6zM323.9 353.1l2.8 5.5h-5.6zM323.5 364.7l2.8 5.5h-5.6zM301.8 202.8l2.8 5.5h-5.6zM379.5 264.0l2.8 5.5h-5.6zM382.6 218.5l2.8 5.5h-5.6zM325.5 359.2l2.8 5.5h-5.6zM373.2 296.9l2.8 5.5h-5.6zM291.3 224.7l2.8 5.5h-5.6zM299.8 208.1l2.8 5.5h-5.6zM298.7 224.5l2.8 5.5h-5.6zM383.9 247.6l2.8 5.5h-5.6zM370.7 309.7l2.8 5.5h-5.6zM352.7 157.9l2.8 5.5h-5.6zM381.0 262.8l2.8 5.5h-5.6zM324.5 161.4l2.8 5.5h-5.6zM312.1 165.9l2.8 5.5h-5.6zM324.4 162.3l2.8 5.5h-5.6zM383.6 244.3l2.8 5.5h-5.6zM381.3 233.2l2.8 5.5h-5.6zM300.7 321.7l2.8 5.5h-5.6zM301.7 214.4l2.8 5.5h-5.6zM298.2 306.1l2.8 5.5h-5.6zM370.7 179.8l2.8 5.5h-5.6zM311.7 181.4l2.8 5.5h-5.6zM298.6 258.8l2.8 5.5h-5.6zM382.3 224.3l2.8 5.5h-5.6zM375.5 299.5l2.8 5.5h-5.6zM329.3 155.7l2.8 5.5h-5.6zM370.7 332.8l2.8 5.5h-5.6zM298.9 271.6l2.8 5.5h-5.6zM377.1 198.7l2.8 5.5h-5.6zM310.4 183.4l2.8 5.5h-5.6zM381.3 207.4l2.8 5.5h-5.6zM331.4 151.6l2.8 5.5h-5.6zM372.4 307.1l2.8 5.5h-5.6zM376.3 200.5l2.8 5.5h-5.6zM328.2 155.1l2.8 5.5h-5.6zM325.9 363.3l2.8 5.5h-5.6zM361.7 347.8l2.8 5.5h-5.6zM302.3 221.7l2.8 5.5h-5.6zM379.0 259.2l2.8 5.5h-5.6zM381.4 254.1l2.8 5.5h-5.6zM379.5 263.1l2.8 5.5h-5.6zM381.6 201.9l2.8 5.5h-5.6zM372.0 308.8l2.8 5.5h-5.6zM305.8 340.7l2.8 5.5h-5.6zM366.4 341.2l2.8 5.5h-5.6zM338.9 367.5l2.8 5.5h-5.6zM331.2 359.7l2.8 5.5h-5.6zM356.4 348.3l2.8 5.5h-5.6zM344.0 148.9l2.8 5.5h-5.6zM380.5 221.1l2.8 5.5h-5.6zM297.5 271.4l2.8 5.5h-5.6zM374.8 295.5l2.8 5.5h-5.6zM317.3 350.6l2.8 5.5h-5.6zM376.2 189.1l2.8 5.5h-5.6zM379.1 257.6l2.8 5.5h-5.6zM298.3 247.7l2.8 5.5h-5.6zM315.8 348.3l2.8 5.5h-5.6zM314.2 181.1l2.8 5.5h-5.6zM305.3 326.2l2.8 5.5h-5.6zM333.7 365.5l2.8 5.5h-5.6zM354.7 354.2l2.8 5.5h-5.6zM351.9 370.1l2.8 5.5h-5.6zM295.7 285.0l2.8 5.5h-5.6zM321.7 168.1l2.8 5.5h-5.6zM313.7 350.9l2.8 5.5h-5.6zM302.9 214.5l2.8 5.5h-5.6zM378.6 196.2l2.8 5.5h-5.6zM365.6 175.9l2.8 5.5h-5.6zM367.3 175.0l2.8 5.5h-5.6zM293.2 241.7l2.8 5.5h-5.6zM381.4 211.8l2.8 5.5h-5.6zM302.5 303.5l2.8 5.5h-5.6zM301.8 192.2l2.8 5.5h-5.6zM389.9 245.3l2.8 5.5h-5.6zM366.1 329.8l2.8 5.5h-5.6zM336.0 147.8l2.8 5.5h-5.6zM380.7 215.6l2.8 5.5h-5.6zM333.5 363.1l2.8 5.5h-5.6zM381.5 232.7l2.8 5.5h-5.6zM299.3 272.9l2.8 5.5h-5.6zM319.5 349.8l2.8 5.5h-5.6zM349.1 154.8l2.8 5.5h-5.6zM304.2 320.8l2.8 5.5h-5.6zM371.2 167.7l2.8 5.5h-5.6zM290.4 239.3l2.8 5.5h-5.6zM374.9 189.1l2.8 5.5h-5.6zM358.9 160.0l2.8 5.5h-5.6zM379.3 268.6l2.8 5.5h-5.6zM365.5 343.3l2.8 5.5h-5.6zM301.0 225.3l2.8 5.5h-5.6zM383.5 208.5l2.8 5.5h-5.6zM312.7 345.0l2.8 5.5h-5.6zM370.1 183.1l2.8 5.5h-5.6zM300.5 289.6l2.8 5.5h-5.6zM370.2 172.5l2.8 5.5h-5.6zM301.0 316.0l2.8 5.5h-5.6zM372.0 178.3l2.8 5.5h-5.6zM367.4 171.3l2.8 5.5h-5.6zM353.9 354.9l2.8 5.5h-5.6zM316.1 353.1l2.8 5.5h-5.6zM379.3 267.5l2.8 5.5h-5.6zM329.5 359.0l2.8 5.5h-5.6zM375.7 191.3l2.8 5.5h-5.6zM359.8 166.3l2.8 5.5h-5.6zM375.5 288.5l2.8 5.5h-5.6zM299.3 254.1l2.8 5.5h-5.6zM340.2 366.7l2.8 5.5h-5.6zM370.5 305.4l2.8 5.5h-5.6zM378.3 258.5l2.8 5.5h-5.6zM297.5 267.4l2.8 5.5h-5.6zM380.9 229.5l2.8 5.5h-5.6zM320.2 171.7l2.8 5.5h-5.6zM300.5 225.1l2.8 5.5h-5.6zM340.8 371.1l2.8 5.5h-5.6zM366.9 327.4l2.8 5.5h-5.6zM293.3 293.2l2.8 5.5h-5.6zM374.4 303.1l2.8 5.5h-5.6zM297.5 280.7l2.8 5.5h-5.6zM364.6 332.7l2.8 5.5h-5.6zM360.6 168.1l2.8 5.5h-5.6zM367.2 173.8l2.8 5.5h-5.6zM378.5 261.1l2.8 5.5h-5.6zM372.0 178.7l2.8 5.5h-5.6zM303.7 199.2l2.8 5.5h-5.6zM379.4 274.4l2.8 5.5h-5.6zM379.9 279.9l2.8 5.5h-5.6zM380.4 213.7l2.8 5.5h-5.6zM386.0 264.1l2.8 5.5h-5.6zM329.2 154.9l2.8 5.5h-5.6zM386.3 256.1l2.8 5.5h-5.6zM375.8 287.3l2.8 5.5h-5.6zM341.7 150.7l2.8 5.5h-5.6zM350.9 364.5l2.8 5.5h-5.6zM383.0 234.9l2.8 5.5h-5.6zM343.3 151.8l2.8 5.5h-5.6zM371.0 182.7l2.8 5.5h-5.6zM357.3 163.2l2.8 5.5h-5.6zM376.4 284.4l2.8 5.5h-5.6zM308.8 338.3l2.8 5.5h-5.6zM297.6 258.6l2.8 5.5h-5.6zM294.5 276.0l2.8 5.5h-5.6zM366.9 325.4l2.8 5.5h-5.6zM334.5 151.5l2.8 5.5h-5.6zM297.0 271.9l2.8 5.5h-5.6zM361.3 161.6l2.8 5.5h-5.6zM308.7 189.9l2.8 5.5h-5.6zM295.5 267.0l2.8 5.5h-5.6zM378.0 204.8l2.8 5.5h-5.6zM336.6 369.0l2.8 5.5h-5.6zM295.2 231.4l2.8 5.5h-5.6zM305.9 340.3l2.8 5.5h-5.6zM300.3 292.7l2.8 5.5h-5.6zM382.0 248.8l2.8 5.5h-5.6zM377.0 201.8l2.8 5.5h-5.6zM377.9 187.5l2.8 5.5h-5.6zM317.4 348.6l2.8 5.5h-5.6zM303.0 319.9l2.8 5.5h-5.6zM343.9 366.9l2.8 5.5h-5.6zM295.8 235.0l2.8 5.5h-5.6zM338.3 367.2l2.8 5.5h-5.6zM302.5 304.0l2.8 5.5h-5.6zM298.8 265.6l2.8 5.5h-5.6zM366.2 176.6l2.8 5.5h-5.6zM298.8 269.3l2.8 5.5h-5.6zM291.1 263.2l2.8 5.5h-5.6zM342.7 368.7l2.8 5.5h-5.6zM349.7 366.8l2.8 5.5h-5.6zM297.9 250.3l2.8 5.5h-5.6zM303.3 311.1l2.8 5.5h-5.6zM378.3 209.0l2.8 5.5h-5.6zM299.0 262.4l2.8 5.5h-5.6zM315.6 343.8l2.8 5.5h-5.6zM362.6 170.7l2.8 5.5h-5.6zM301.2 297.3l2.8 5.5h-5.6zM303.2 295.6l2.8 5.5h-5.6zM332.9 363.1l2.8 5.5h-5.6zM352.0 360.3l2.8 5.5h-5.6zM310.6 189.9l2.8 5.5h-5.6zM327.9 149.7l2.8 5.5h-5.6zM349.1 154.2l2.8 5.5h-5.6zM294.8 221.7l2.8 5.5h-5.6zM354.1 352.4l2.8 5.5h-5.6zM389.4 238.6l2.8 5.5h-5.6zM384.8 239.6l2.8 5.5h-5.6zM378.4 206.0l2.8 5.5h-5.6zM324.5 163.6l2.8 5.5h-5.6zM300.5 224.4l2.8 5.5h-5.6zM307.3 192.1l2.8 5.5h-5.6zM386.4 251.6l2.8 5.5h-5.6zM345.3 366.2l2.8 5.5h-5.6zM343.0 150.8l2.8 5.5h-5.6zM353.8 353.3l2.8 5.5h-5.6zM377.5 205.7l2.8 5.5h-5.6zM378.6 290.9l2.8 5.5h-5.6zM342.8 148.9l2.8 5.5h-5.6zM303.0 215.0l2.8 5.5h-5.6zM316.0 174.1l2.8 5.5h-5.6zM312.2 186.2l2.8 5.5h-5.6zM370.9 317.8l2.8 5.5h-5.6zM340.7 149.6l2.8 5.5h-5.6zM372.1 312.3l2.8 5.5h-5.6zM379.0 270.9l2.8 5.5h-5.6zM376.9 185.9l2.8 5.5h-5.6zM385.0 276.4l2.8 5.5h-5.6zM379.0 258.0l2.8 5.5h-5.6zM335.6 364.3l2.8 5.5h-5.6zM376.6 320.0l2.8 5.5h-5.6zM305.8 193.0l2.8 5.5h-5.6zM299.5 318.2l2.8 5.5h-5.6zM320.3 168.2l2.8 5.5h-5.6zM299.2 274.2l2.8 5.5h-5.6zM298.0 267.7l2.8 5.5h-5.6zM297.7 257.5l2.8 5.5h-5.6zM378.8 276.5l2.8 5.5h-5.6zM318.3 175.1l2.8 5.5h-5.6zM351.0 363.1l2.8 5.5h-5.6zM380.2 282.8l2.8 5.5h-5.6zM331.3 154.3l2.8 5.5h-5.6zM301.4 305.4l2.8 5.5h-5.6zM318.6 348.4l2.8 5.5h-5.6zM379.6 218.5l2.8 5.5h-5.6zM387.7 237.0l2.8 5.5h-5.6zM341.5 367.5l2.8 5.5h-5.6zM302.6 178.4l2.8 5.5h-5.6zM353.7 352.4l2.8 5.5h-5.6zM380.2 231.4l2.8 5.5h-5.6zM370.5 302.9l2.8 5.5h-5.6zM380.5 252.8l2.8 5.5h-5.6zM311.6 347.0l2.8 5.5h-5.6zM298.8 259.1l2.8 5.5h-5.6zM363.4 337.2l2.8 5.5h-5.6zM370.1 320.0l2.8 5.5h-5.6zM362.9 171.2l2.8 5.5h-5.6zM328.6 157.7l2.8 5.5h-5.6zM337.9 367.5l2.8 5.5h-5.6zM303.9 203.4l2.8 5.5h-5.6zM379.6 268.9l2.8 5.5h-5.6zM365.7 330.5l2.8 5.5h-5.6zM321.3 161.2l2.8 5.5h-5.6zM306.4 199.6l2.8 5.5h-5.6zM355.7 157.9l2.8 5.5h-5.6zM310.2 188.5l2.8 5.5h-5.6zM310.2 336.9l2.8 5.5h-5.6zM371.3 327.8l2.8 5.5h-5.6zM298.4 221.3l2.8 5.5h-5.6zM329.9 155.8l2.8 5.5h-5.6zM375.6 191.2l2.8 5.5h-5.6zM329.9 362.1l2.8 5.5h-5.6zM319.5 167.3l2.8 5.5h-5.6zM299.5 310.0l2.8 5.5h-5.6zM354.6 356.7l2.8 5.5h-5.6zM358.9 159.9l2.8 5.5h-5.6zM386.6 252.4l2.8 5.5h-5.6zM302.2 310.0l2.8 5.5h-5.6zM377.2 199.2l2.8 5.5h-5.6zM301.7 314.9l2.8 5.5h-5.6zM376.2 192.6l2.8 5.5h-5.6zM329.5 360.9l2.8 5.5h-5.6zM367.0 324.6l2.8 5.5h-5.6zM306.0 330.8l2.8 5.5h-5.6zM377.8 283.6l2.8 5.5h-5.6zM324.2 159.9l2.8 5.5h-5.6zM307.9 194.1l2.8 5.5h-5.6zM381.6 250.9l2.8 5.5h-5.6zM324.2 158.9l2.8 5.5h-5.6zM375.0 286.1l2.8 5.5h-5.6zM340.0 369.0l2.8 5.5h-5.6zM361.5 339.9l2.8 5.5h-5.6zM297.7 299.4l2.8 5.5h-5.6zM382.4 247.3l2.8 5.5h-5.6zM372.0 300.9l2.8 5.5h-5.6zM302.4 291.9l2.8 5.5h-5.6zM295.8 235.3l2.8 5.5h-5.6zM338.0 365.6l2.8 5.5h-5.6zM328.9 156.5l2.8 5.5h-5.6zM301.3 224.9l2.8 5.5h-5.6zM386.1 245.4l2.8 5.5h-5.6zM384.3 283.5l2.8 5.5h-5.6zM342.1 367.7l2.8 5.5h-5.6zM383.9 245.8l2.8 5.5h-5.6zM297.0 299.2l2.8 5.5h-5.6zM378.6 208.4l2.8 5.5h-5.6zM391.3 240.0l2.8 5.5h-5.6zM376.9 206.6l2.8 5.5h-5.6zM362.8 170.2l2.8 5.5h-5.6zM307.8 185.8l2.8 5.5h-5.6zM285.6 267.6l2.8 5.5h-5.6zM318.9 172.7l2.8 5.5h-5.6zM384.6 225.9l2.8 5.5h-5.6zM299.9 260.9l2.8 5.5h-5.6zM302.4 301.3l2.8 5.5h-5.6zM370.5 318.5l2.8 5.5h-5.6zM379.1 219.4l2.8 5.5h-5.6zM379.8 273.3l2.8 5.5h-5.6zM325.2 162.4l2.8 5.5h-5.6zM327.2 158.8l2.8 5.5h-5.6zM374.6 310.1l2.8 5.5h-5.6zM301.1 223.6l2.8 5.5h-5.6zM360.3 165.3l2.8 5.5h-5.6zM375.3 319.3l2.8 5.5h-5.6zM381.1 231.3l2.8 5.5h-5.6zM311.8 188.6l2.8 5.5h-5.6zM366.0 336.7l2.8 5.5h-5.6zM300.0 250.5l2.8 5.5h-5.6zM354.8 160.7l2.8 5.5h-5.6zM316.4 177.9l2.8 5.5h-5.6zM294.8 260.3l2.8 5.5h-5.6zM371.3 301.1l2.8 5.5h-5.6zM324.1 160.5l2.8 5.5h-5.6zM381.4 264.3l2.8 5.5h-5.6zM375.2 290.7l2.8 5.5h-5.6zM343.7 149.2l2.8 5.5h-5.6zM314.2 178.8l2.8 5.5h-5.6zM322.5 167.9l2.8 5.5h-5.6zM382.5 250.9l2.8 5.5h-5.6zM319.6 158.6l2.8 5.5h-5.6zM367.5 323.9l2.8 5.5h-5.6zM360.0 344.5l2.8 5.5h-5.6zM318.5 174.5l2.8 5.5h-5.6zM296.1 232.5l2.8 5.5h-5.6zM299.1 222.9l2.8 5.5h-5.6zM305.5 329.0l2.8 5.5h-5.6zM375.2 292.2l2.8 5.5h-5.6zM298.4 242.5l2.8 5.5h-5.6zM384.0 232.5l2.8 5.5h-5.6zM378.6 256.9l2.8 5.5h-5.6zM355.6 159.2l2.8 5.5h-5.6zM381.9 297.6l2.8 5.5h-5.6zM299.8 191.1l2.8 5.5h-5.6zM378.9 266.0l2.8 5.5h-5.6zM373.3 185.2l2.8 5.5h-5.6zM298.3 279.1l2.8 5.5h-5.6zM382.2 250.9l2.8 5.5h-5.6zM303.8 322.8l2.8 5.5h-5.6zM295.8 259.9l2.8 5.5h-5.6zM303.1 301.5l2.8 5.5h-5.6zM302.4 214.1l2.8 5.5h-5.6zM315.3 344.9l2.8 5.5h-5.6zM299.0 265.0l2.8 5.5h-5.6zM379.1 257.0l2.8 5.5h-5.6zM383.2 210.7l2.8 5.5h-5.6zM311.0 341.0l2.8 5.5h-5.6zM375.7 331.4l2.8 5.5h-5.6zM336.9 365.1l2.8 5.5h-5.6zM297.1 229.3l2.8 5.5h-5.6zM336.8 151.7l2.8 5.5h-5.6zM352.8 365.8l2.8 5.5h-5.6zM297.6 214.9l2.8 5.5h-5.6zM357.3 162.2l2.8 5.5h-5.6zM378.1 194.9l2.8 5.5h-5.6zM329.2 154.6l2.8 5.5h-5.6zM318.5 173.2l2.8 5.5h-5.6zM303.4 201.7l2.8 5.5h-5.6zM381.8 263.1l2.8 5.5h-5.6zM322.9 166.8l2.8 5.5h-5.6zM306.0 334.1l2.8 5.5h-5.6zM384.3 243.1l2.8 5.5h-5.6zM377.2 206.2l2.8 5.5h-5.6zM380.2 260.9l2.8 5.5h-5.6zM301.4 307.0l2.8 5.5h-5.6zM346.2 152.9l2.8 5.5h-5.6zM303.3 293.8l2.8 5.5h-5.6zM375.2 288.5l2.8 5.5h-5.6zM297.0 236.3l2.8 5.5h-5.6zM362.8 172.0l2.8 5.5h-5.6zM366.8 328.5l2.8 5.5h-5.6zM303.9 313.0l2.8 5.5h-5.6zM382.1 216.8l2.8 5.5h-5.6zM363.4 335.0l2.8 5.5h-5.6zM381.9 287.0l2.8 5.5h-5.6zM376.6 288.8l2.8 5.5h-5.6zM371.9 310.5l2.8 5.5h-5.6zM291.7 200.4l2.8 5.5h-5.6zM371.4 313.9l2.8 5.5h-5.6zM298.8 269.9l2.8 5.5h-5.6zM345.5 147.7l2.8 5.5h-5.6zM363.7 343.1l2.8 5.5h-5.6zM367.9 335.0l2.8 5.5h-5.6zM353.0 358.4l2.8 5.5h-5.6zM348.2 153.1l2.8 5.5h-5.6zM298.6 313.9l2.8 5.5h-5.6zM371.7 181.8l2.8 5.5h-5.6zM371.6 317.3l2.8 5.5h-5.6zM378.1 208.3l2.8 5.5h-5.6zM328.1 365.0l2.8 5.5h-5.6zM376.6 190.5l2.8 5.5h-5.6zM291.4 231.0l2.8 5.5h-5.6zM381.3 233.6l2.8 5.5h-5.6zM315.0 164.0l2.8 5.5h-5.6zM346.9 365.5l2.8 5.5h-5.6zM317.4 175.0l2.8 5.5h-5.6zM311.6 184.4l2.8 5.5h-5.6zM302.3 222.5l2.8 5.5h-5.6zM297.9 241.1l2.8 5.5h-5.6zM367.7 334.0l2.8 5.5h-5.6zM302.7 220.2l2.8 5.5h-5.6zM384.4 243.3l2.8 5.5h-5.6zM332.6 362.4l2.8 5.5h-5.6zM377.8 196.8l2.8 5.5h-5.6zM294.1 271.5l2.8 5.5h-5.6zM358.3 161.6l2.8 5.5h-5.6zM300.0 255.1l2.8 5.5h-5.6zM303.1 215.4l2.8 5.5h-5.6zM305.2 332.6l2.8 5.5h-5.6zM304.6 319.0l2.8 5.5h-5.6zM362.8 340.2l2.8 5.5h-5.6zM361.9 343.2l2.8 5.5h-5.6zM355.4 351.6l2.8 5.5h-5.6zM352.0 155.3l2.8 5.5h-5.6zM344.1 367.5l2.8 5.5h-5.6zM296.6 252.1l2.8 5.5h-5.6zM353.2 357.1l2.8 5.5h-5.6zM350.1 363.2l2.8 5.5h-5.6zM377.8 199.6l2.8 5.5h-5.6zM371.7 183.4l2.8 5.5h-5.6zM335.9 364.0l2.8 5.5h-5.6zM304.2 314.3l2.8 5.5h-5.6zM295.9 267.2l2.8 5.5h-5.6zM335.6 363.8l2.8 5.5h-5.6zM338.2 366.4l2.8 5.5h-5.6zM324.1 164.4l2.8 5.5h-5.6zM291.4 204.0l2.8 5.5h-5.6zM295.5 267.9l2.8 5.5h-5.6zM388.8 228.6l2.8 5.5h-5.6zM346.0 373.9l2.8 5.5h-5.6zM315.8 179.8l2.8 5.5h-5.6zM292.5 239.4l2.8 5.5h-5.6zM364.0 172.6l2.8 5.5h-5.6zM299.7 255.8l2.8 5.5h-5.6zM311.1 188.5l2.8 5.5h-5.6zM300.6 227.0l2.8 5.5h-5.6zM336.8 370.9l2.8 5.5h-5.6zM383.3 238.7l2.8 5.5h-5.6zM337.4 365.7l2.8 5.5h-5.6zM355.8 161.2l2.8 5.5h-5.6zM385.8 215.8l2.8 5.5h-5.6zM298.8 295.2l2.8 5.5h-5.6zM382.7 219.4l2.8 5.5h-5.6zM378.3 193.2l2.8 5.5h-5.6zM303.4 314.5l2.8 5.5h-5.6zM304.9 198.6l2.8 5.5h-5.6zM306.9 342.1l2.8 5.5h-5.6zM384.2 183.9l2.8 5.5h-5.6zM304.0 317.8l2.8 5.5h-5.6zM298.2 235.2l2.8 5.5h-5.6zM336.5 149.9l2.8 5.5h-5.6zM374.1 311.9l2.8 5.5h-5.6zM355.8 349.2l2.8 5.5h-5.6zM299.7 262.3l2.8 5.5h-5.6zM301.2 225.0l2.8 5.5h-5.6zM294.8 314.9l2.8 5.5h-5.6zM308.1 338.5l2.8 5.5h-5.6zM374.7 288.7l2.8 5.5h-5.6zM354.6 160.2l2.8 5.5h-5.6zM305.7 324.5l2.8 5.5h-5.6zM331.8 367.2l2.8 5.5h-5.6zM376.7 201.2l2.8 5.5h-5.6zM301.8 307.0l2.8 5.5h-5.6zM342.3 151.1l2.8 5.5h-5.6zM375.5 189.7l2.8 5.5h-5.6zM384.5 246.5l2.8 5.5h-5.6zM309.3 336.2l2.8 5.5h-5.6zM304.4 320.7l2.8 5.5h-5.6zM382.0 203.8l2.8 5.5h-5.6zM379.2 254.7l2.8 5.5h-5.6zM373.7 184.5l2.8 5.5h-5.6zM303.1 198.4l2.8 5.5h-5.6zM364.8 331.4l2.8 5.5h-5.6zM347.1 151.7l2.8 5.5h-5.6zM317.1 346.3l2.8 5.5h-5.6zM301.7 310.1l2.8 5.5h-5.6zM318.4 169.2l2.8 5.5h-5.6zM383.7 257.9l2.8 5.5h-5.6zM359.2 162.9l2.8 5.5h-5.6zM364.0 333.2l2.8 5.5h-5.6zM364.4 168.3l2.8 5.5h-5.6zM347.1 152.4l2.8 5.5h-5.6zM321.7 168.8l2.8 5.5h-5.6zM383.3 234.0l2.8 5.5h-5.6zM336.3 366.8l2.8 5.5h-5.6zM300.0 228.0l2.8 5.5h-5.6zM375.7 287.2l2.8 5.5h-5.6zM363.2 163.2l2.8 5.5h-5.6zM295.7 242.8l2.8 5.5h-5.6zM345.3 148.8l2.8 5.5h-5.6zM298.5 261.3l2.8 5.5h-5.6zM298.4 263.0l2.8 5.5h-5.6zM382.6 246.9l2.8 5.5h-5.6zM381.6 249.5l2.8 5.5h-5.6zM374.3 300.6l2.8 5.5h-5.6zM296.6 286.9l2.8 5.5h-5.6zM298.9 278.1l2.8 5.5h-5.6zM319.6 349.9l2.8 5.5h-5.6zM296.9 239.7l2.8 5.5h-5.6zM381.1 265.9l2.8 5.5h-5.6zM327.5 158.4l2.8 5.5h-5.6zM308.4 196.6l2.8 5.5h-5.6zM379.0 263.7l2.8 5.5h-5.6zM293.3 261.4l2.8 5.5h-5.6zM299.1 260.9l2.8 5.5h-5.6zM307.7 196.1l2.8 5.5h-5.6zM384.7 255.1l2.8 5.5h-5.6zM302.4 317.7l2.8 5.5h-5.6zM295.0 298.7l2.8 5.5h-5.6zM354.5 363.7l2.8 5.5h-5.6zM296.2 285.7l2.8 5.5h-5.6zM359.3 348.3l2.8 5.5h-5.6zM314.1 343.6l2.8 5.5h-5.6zM385.1 240.2l2.8 5.5h-5.6zM371.1 175.2l2.8 5.5h-5.6zM377.3 207.9l2.8 5.5h-5.6zM380.0 187.4l2.8 5.5h-5.6zM370.7 304.3l2.8 5.5h-5.6zM352.6 158.7l2.8 5.5h-5.6zM298.8 287.8l2.8 5.5h-5.6zM297.6 285.8l2.8 5.5h-5.6zM365.0 172.2l2.8 5.5h-5.6zM374.8 313.5l2.8 5.5h-5.6zM297.2 223.1l2.8 5.5h-5.6zM367.3 171.0l2.8 5.5h-5.6zM309.8 178.0l2.8 5.5h-5.6zM375.3 190.2l2.8 5.5h-5.6zM376.1 192.6l2.8 5.5h-5.6zM299.5 210.6l2.8 5.5h-5.6zM300.7 316.2l2.8 5.5h-5.6zM304.2 316.8l2.8 5.5h-5.6zM373.2 187.4l2.8 5.5h-5.6zM299.5 255.2l2.8 5.5h-5.6zM375.5 292.1l2.8 5.5h-5.6zM350.1 155.7l2.8 5.5h-5.6zM381.6 274.8l2.8 5.5h-5.6zM371.3 315.7l2.8 5.5h-5.6zM326.3 158.1l2.8 5.5h-5.6zM301.3 208.9l2.8 5.5h-5.6zM354.2 158.6l2.8 5.5h-5.6zM359.9 348.3l2.8 5.5h-5.6zM373.2 305.2l2.8 5.5h-5.6zM325.5 355.3l2.8 5.5h-5.6zM304.2 203.8l2.8 5.5h-5.6zM301.4 225.1l2.8 5.5h-5.6zM341.5 151.3l2.8 5.5h-5.6zM291.3 252.8l2.8 5.5h-5.6zM343.4 150.9l2.8 5.5h-5.6zM344.6 370.6l2.8 5.5h-5.6zM380.1 227.2l2.8 5.5h-5.6zM374.5 305.3l2.8 5.5h-5.6zM384.9 262.9l2.8 5.5h-5.6zM379.3 275.3l2.8 5.5h-5.6zM298.8 284.3l2.8 5.5h-5.6zM377.5 190.6l2.8 5.5h-5.6zM370.4 177.6l2.8 5.5h-5.6zM297.1 285.8l2.8 5.5h-5.6zM304.3 318.7l2.8 5.5h-5.6zM365.3 331.2l2.8 5.5h-5.6zM310.3 191.4l2.8 5.5h-5.6zM310.1 192.4l2.8 5.5h-5.6zM383.0 237.6l2.8 5.5h-5.6zM311.4 186.0l2.8 5.5h-5.6zM373.0 323.0l2.8 5.5h-5.6zM382.5 250.7l2.8 5.5h-5.6zM326.0 359.4l2.8 5.5h-5.6zM297.7 257.4l2.8 5.5h-5.6zM371.4 306.1l2.8 5.5h-5.6zM382.9 211.8l2.8 5.5h-5.6zM300.1 301.8l2.8 5.5h-5.6zM380.5 219.6l2.8 5.5h-5.6zM297.8 247.2l2.8 5.5h-5.6zM378.2 198.4l2.8 5.5h-5.6zM309.0 193.7l2.8 5.5h-5.6zM380.7 230.7l2.8 5.5h-5.6zM295.9 282.9l2.8 5.5h-5.6zM379.0 212.6l2.8 5.5h-5.6zM379.3 257.1l2.8 5.5h-5.6zM331.4 360.5l2.8 5.5h-5.6zM373.4 296.1l2.8 5.5h-5.6zM329.2 153.1l2.8 5.5h-5.6zM379.7 184.0l2.8 5.5h-5.6zM374.4 187.6l2.8 5.5h-5.6zM331.8 149.5l2.8 5.5h-5.6zM298.0 267.3l2.8 5.5h-5.6zM382.9 232.3l2.8 5.5h-5.6zM375.2 190.1l2.8 5.5h-5.6zM366.5 324.4l2.8 5.5h-5.6zM368.0 330.8l2.8 5.5h-5.6zM299.4 287.2l2.8 5.5h-5.6zM303.4 316.6l2.8 5.5h-5.6zM378.8 205.9l2.8 5.5h-5.6zM366.6 333.6l2.8 5.5h-5.6zM313.3 183.1l2.8 5.5h-5.6zM311.2 344.2l2.8 5.5h-5.6zM361.3 340.5l2.8 5.5h-5.6zM294.5 272.9l2.8 5.5h-5.6zM297.0 247.2l2.8 5.5h-5.6zM300.9 208.3l2.8 5.5h-5.6zM302.4 312.1l2.8 5.5h-5.6zM376.9 289.2l2.8 5.5h-5.6zM373.4 186.0l2.8 5.5h-5.6zM295.8 243.1l2.8 5.5h-5.6zM304.5 317.8l2.8 5.5h-5.6zM361.6 341.7l2.8 5.5h-5.6zM305.0 321.8l2.8 5.5h-5.6zM297.9 295.4l2.8 5.5h-5.6zM381.0 226.5l2.8 5.5h-5.6zM298.0 244.7l2.8 5.5h-5.6zM347.5 374.5l2.8 5.5h-5.6zM357.2 160.7l2.8 5.5h-5.6zM383.0 215.4l2.8 5.5h-5.6zM320.4 168.3l2.8 5.5h-5.6zM374.9 186.9l2.8 5.5h-5.6zM322.7 355.9l2.8 5.5h-5.6zM333.9 365.2l2.8 5.5h-5.6zM301.4 220.1l2.8 5.5h-5.6zM368.8 337.7l2.8 5.5h-5.6zM385.4 239.2l2.8 5.5h-5.6zM368.6 327.5l2.8 5.5h-5.6zM386.6 198.6l2.8 5.5h-5.6zM370.8 309.7l2.8 5.5h-5.6zM380.1 270.6l2.8 5.5h-5.6zM347.2 153.2l2.8 5.5h-5.6zM363.5 340.6l2.8 5.5h-5.6zM371.3 308.0l2.8 5.5h-5.6zM385.6 246.8l2.8 5.5h-5.6zM320.2 168.6l2.8 5.5h-5.6zM386.8 244.2l2.8 5.5h-5.6zM366.0 326.5l2.8 5.5h-5.6zM379.8 200.5l2.8 5.5h-5.6zM297.4 228.8l2.8 5.5h-5.6zM352.6 362.3l2.8 5.5h-5.6zM389.8 248.6l2.8 5.5h-5.6zM372.9 308.4l2.8 5.5h-5.6zM298.1 224.0l2.8 5.5h-5.6zM352.0 361.3l2.8 5.5h-5.6zM322.1 351.5l2.8 5.5h-5.6zM302.6 217.9l2.8 5.5h-5.6zM302.8 209.4l2.8 5.5h-5.6zM369.9 319.6l2.8 5.5h-5.6zM360.1 342.3l2.8 5.5h-5.6zM343.1 149.3l2.8 5.5h-5.6zM379.4 274.0l2.8 5.5h-5.6zM377.8 283.8l2.8 5.5h-5.6zM361.1 344.3l2.8 5.5h-5.6zM301.7 303.8l2.8 5.5h-5.6zM315.2 172.3l2.8 5.5h-5.6zM364.5 167.4l2.8 5.5h-5.6zM310.8 183.1l2.8 5.5h-5.6zM380.5 204.6l2.8 5.5h-5.6zM304.7 315.9l2.8 5.5h-5.6zM349.6 147.9l2.8 5.5h-5.6zM301.6 305.5l2.8 5.5h-5.6zM373.7 188.0l2.8 5.5h-5.6zM384.3 251.7l2.8 5.5h-5.6zM370.8 305.1l2.8 5.5h-5.6zM310.3 183.8l2.8 5.5h-5.6zM384.3 219.1l2.8 5.5h-5.6zM303.1 327.9l2.8 5.5h-5.6zM298.6 298.9l2.8 5.5h-5.6zM294.4 239.7l2.8 5.5h-5.6zM383.5 232.7l2.8 5.5h-5.6zM326.4 359.6l2.8 5.5h-5.6zM360.6 350.0l2.8 5.5h-5.6zM319.7 349.1l2.8 5.5h-5.6zM381.4 250.5l2.8 5.5h-5.6zM342.2 367.9l2.8 5.5h-5.6zM351.9 360.6l2.8 5.5h-5.6zM343.7 368.8l2.8 5.5h-5.6zM322.1 357.6l2.8 5.5h-5.6zM345.4 148.9l2.8 5.5h-5.6zM353.0 361.8l2.8 5.5h-5.6zM299.5 300.0l2.8 5.5h-5.6zM370.6 319.2l2.8 5.5h-5.6zM326.5 160.2l2.8 5.5h-5.6zM302.1 314.5l2.8 5.5h-5.6zM353.9 157.1l2.8 5.5h-5.6zM297.3 294.2l2.8 5.5h-5.6zM381.3 299.9l2.8 5.5h-5.6zM335.0 365.2l2.8 5.5h-5.6zM311.9 188.4l2.8 5.5h-5.6zM297.1 274.9l2.8 5.5h-5.6zM374.8 302.6l2.8 5.5h-5.6zM372.1 315.0l2.8 5.5h-5.6zM328.2 361.6l2.8 5.5h-5.6zM384.2 239.6l2.8 5.5h-5.6zM362.3 341.4l2.8 5.5h-5.6zM302.1 221.4l2.8 5.5h-5.6zM301.8 220.8l2.8 5.5h-5.6zM338.4 366.1l2.8 5.5h-5.6zM333.7 372.3l2.8 5.5h-5.6zM298.6 305.3l2.8 5.5h-5.6zM373.3 297.6l2.8 5.5h-5.6zM378.9 282.9l2.8 5.5h-5.6zM301.1 315.8l2.8 5.5h-5.6zM358.7 160.5l2.8 5.5h-5.6zM307.9 193.1l2.8 5.5h-5.6zM359.9 165.8l2.8 5.5h-5.6zM343.8 152.3l2.8 5.5h-5.6zM315.4 176.6l2.8 5.5h-5.6zM299.1 303.7l2.8 5.5h-5.6zM312.9 181.9l2.8 5.5h-5.6zM304.6 324.4l2.8 5.5h-5.6zM298.6 285.9l2.8 5.5h-5.6zM302.7 292.6l2.8 5.5h-5.6zM302.3 299.9l2.8 5.5h-5.6zM299.8 252.5l2.8 5.5h-5.6zM378.8 225.4l2.8 5.5h-5.6zM294.1 247.7l2.8 5.5h-5.6zM301.2 305.5l2.8 5.5h-5.6zM299.0 222.9l2.8 5.5h-5.6zM317.3 346.2l2.8 5.5h-5.6zM377.5 283.8l2.8 5.5h-5.6zM375.6 291.8l2.8 5.5h-5.6zM297.8 313.6l2.8 5.5h-5.6zM362.1 167.4l2.8 5.5h-5.6zM356.6 162.2l2.8 5.5h-5.6zM297.9 228.7l2.8 5.5h-5.6zM315.5 178.2l2.8 5.5h-5.6zM347.5 153.5l2.8 5.5h-5.6zM303.3 337.0l2.8 5.5h-5.6zM332.3 152.1l2.8 5.5h-5.6zM362.4 336.0l2.8 5.5h-5.6zM302.6 310.4l2.8 5.5h-5.6zM378.3 211.3l2.8 5.5h-5.6zM344.0 150.0l2.8 5.5h-5.6zM384.9 197.8l2.8 5.5h-5.6zM373.5 180.0l2.8 5.5h-5.6zM376.5 199.5l2.8 5.5h-5.6zM298.7 274.3l2.8 5.5h-5.6zM298.9 267.1l2.8 5.5h-5.6zM362.2 164.7l2.8 5.5h-5.6zM295.0 277.6l2.8 5.5h-5.6zM299.2 269.1l2.8 5.5h-5.6zM302.5 318.7l2.8 5.5h-5.6zM358.8 358.7l2.8 5.5h-5.6zM385.8 260.9l2.8 5.5h-5.6zM299.3 275.4l2.8 5.5h-5.6zM348.5 152.6l2.8 5.5h-5.6zM301.1 226.3l2.8 5.5h-5.6zM377.7 288.3l2.8 5.5h-5.6zM383.8 218.1l2.8 5.5h-5.6zM345.3 366.3l2.8 5.5h-5.6zM372.4 315.8l2.8 5.5h-5.6zM358.6 348.8l2.8 5.5h-5.6zM380.8 206.9l2.8 5.5h-5.6zM373.2 313.5l2.8 5.5h-5.6zM303.9 317.8l2.8 5.5h-5.6zM370.2 325.1l2.8 5.5h-5.6zM319.8 165.5l2.8 5.5h-5.6zM315.5 344.7l2.8 5.5h-5.6zM369.2 166.8l2.8 5.5h-5.6zM296.0 282.7l2.8 5.5h-5.6zM374.2 298.6l2.8 5.5h-5.6zM329.3 151.5l2.8 5.5h-5.6zM305.4 331.3l2.8 5.5h-5.6zM363.4 345.7l2.8 5.5h-5.6zM371.8 320.4l2.8 5.5h-5.6zM301.9 334.0l2.8 5.5h-5.6zM298.6 230.2l2.8 5.5h-5.6zM341.8 151.2l2.8 5.5h-5.6zM362.4 341.5l2.8 5.5h-5.6zM296.5 224.7l2.8 5.5h-5.6zM360.3 160.4l2.8 5.5h-5.6zM295.9 226.8l2.8 5.5h-5.6zM313.6 343.0l2.8 5.5h-5.6zM299.7 208.9l2.8 5.5h-5.6zM297.3 293.1l2.8 5.5h-5.6zM370.6 305.4l2.8 5.5h-5.6zM317.8 351.4l2.8 5.5h-5.6zM384.5 234.1l2.8 5.5h-5.6zM319.2 172.8l2.8 5.5h-5.6zM303.8 328.8l2.8 5.5h-5.6zM352.5 360.0l2.8 5.5h-5.6zM381.3 260.9l2.8 5.5h-5.6zM297.3 238.1l2.8 5.5h-5.6zM372.6 180.3l2.8 5.5h-5.6zM299.3 247.5l2.8 5.5h-5.6zM307.7 343.9l2.8 5.5h-5.6zM308.0 193.4l2.8 5.5h-5.6zM350.5 365.8l2.8 5.5h-5.6zM379.9 229.7l2.8 5.5h-5.6zM381.5 225.4l2.8 5.5h-5.6zM372.7 313.3l2.8 5.5h-5.6zM365.6 331.9l2.8 5.5h-5.6zM378.0 210.0l2.8 5.5h-5.6zM339.9 150.6l2.8 5.5h-5.6zM376.6 188.9l2.8 5.5h-5.6zM298.2 240.4l2.8 5.5h-5.6zM306.6 332.9l2.8 5.5h-5.6zM332.7 361.1l2.8 5.5h-5.6zM361.6 152.6l2.8 5.5h-5.6zM303.3 201.6l2.8 5.5h-5.6zM315.4 344.5l2.8 5.5h-5.6zM297.8 244.3l2.8 5.5h-5.6zM320.4 164.9l2.8 5.5h-5.6zM294.8 222.3l2.8 5.5h-5.6zM378.2 260.3l2.8 5.5h-5.6zM381.9 235.2l2.8 5.5h-5.6zM368.4 180.8l2.8 5.5h-5.6zM315.8 350.6l2.8 5.5h-5.6zM359.5 357.6l2.8 5.5h-5.6zM314.7 182.7l2.8 5.5h-5.6zM306.2 332.7l2.8 5.5h-5.6zM384.7 196.8l2.8 5.5h-5.6zM380.0 261.9l2.8 5.5h-5.6zM297.1 314.5l2.8 5.5h-5.6zM302.6 298.5l2.8 5.5h-5.6zM354.2 351.8l2.8 5.5h-5.6zM320.2 151.0l2.8 5.5h-5.6zM383.0 244.8l2.8 5.5h-5.6zM379.1 261.3l2.8 5.5h-5.6zM308.4 183.5l2.8 5.5h-5.6zM303.3 215.9l2.8 5.5h-5.6zM295.7 240.7l2.8 5.5h-5.6zM293.7 312.5l2.8 5.5h-5.6zM361.0 168.7l2.8 5.5h-5.6zM293.6 256.4l2.8 5.5h-5.6zM303.2 295.0l2.8 5.5h-5.6zM306.3 336.1l2.8 5.5h-5.6zM375.2 189.3l2.8 5.5h-5.6zM378.4 262.1l2.8 5.5h-5.6zM347.6 365.4l2.8 5.5h-5.6zM380.4 252.4l2.8 5.5h-5.6zM325.8 144.5l2.8 5.5h-5.6zM348.3 140.2l2.8 5.5h-5.6zM325.0 142.4l2.8 5.5h-5.6zM342.9 148.0l2.8 5.5h-5.6zM327.6 137.6l2.8 5.5h-5.6zM345.8 145.2l2.8 5.5h-5.6zM350.9 146.6l2.8 5.5h-5.6zM336.8 141.2l2.8 5.5h-5.6zM354.6 141.9l2.8 5.5h-5.6zM330.4 137.6l2.8 5.5h-5.6zM339.1 143.6l2.8 5.5h-5.6zM333.9 142.4l2.8 5.5h-5.6zM341.1 146.4l2.8 5.5h-5.6zM349.4 143.8l2.8 5.5h-5.6zM323.5 145.4l2.8 5.5h-5.6zM324.5 142.0l2.8 5.5h-5.6zM324.2 142.8l2.8 5.5h-5.6zM329.4 143.9l2.8 5.5h-5.6zM355.0 142.6l2.8 5.5h-5.6zM345.7 137.1l2.8 5.5h-5.6zM334.8 146.3l2.8 5.5h-5.6zM336.9 144.8l2.8 5.5h-5.6zM339.1 137.7l2.8 5.5h-5.6zM344.0 138.7l2.8 5.5h-5.6zM353.1 140.8l2.8 5.5h-5.6zM345.8 142.8l2.8 5.5h-5.6zM347.9 139.8l2.8 5.5h-5.6zM348.6 142.1l2.8 5.5h-5.6zM350.1 145.6l2.8 5.5h-5.6zM339.6 138.7l2.8 5.5h-5.6zM339.6 415.0l2.8 5.5h-5.6z"/>
</g>
<g clip-path="url(#pc)"><path d="M95 232.5H564M329.5 21V445" stroke="#000" stroke-width="1" stroke-dasharray="2.6 1.4" fill="none"/></g>
<rect x="94" y="20" width="470" height="1" fill="#000"/>
<rect x="563" y="20" width="1" height="425" fill="#000"/>
<path d="M94.5 20.5V446.2" stroke="#404040" stroke-width="2" fill="none"/>
<path d="M93.5 445.3H565" stroke="#404040" stroke-width="2" fill="none"/>
<path d="M89 21.5H94M89 37.5H94M89 53.5H94M89 70.5H94M89 86.5H94M89 102.5H94M89 119.5H94M89 135.5H94M89 151.5H94M89 167.5H94M89 184.5H94M89 200.5H94M89 216.5H94M89 232.5H94M89 249.5H94M89 265.5H94M89 281.5H94M89 298.5H94M89 314.5H94M89 330.5H94M89 346.5H94M89 363.5H94M89 379.5H94M89 395.5H94M89 412.5H94M89 428.5H94M89 444.5H94M94.5 446V451M141.5 446V451M188.5 446V451M235.5 446V451M282.5 446V451M329.5 446V451M376.5 446V451M423.5 446V451M470.5 446V451M517.5 446V451M564.5 446V451" stroke="#a4a4a4" stroke-width="1" fill="none"/>
<path d="M91 25.5H94M91 29.5H94M91 33.5H94M91 41.5H94M91 45.5H94M91 49.5H94M91 57.5H94M91 62.5H94M91 66.5H94M91 74.5H94M91 78.5H94M91 82.5H94M91 90.5H94M91 94.5H94M91 98.5H94M91 106.5H94M91 110.5H94M91 115.5H94M91 123.5H94M91 127.5H94M91 131.5H94M91 139.5H94M91 143.5H94M91 147.5H94M91 155.5H94M91 159.5H94M91 163.5H94M91 171.5H94M91 176.5H94M91 180.5H94M91 188.5H94M91 192.5H94M91 196.5H94M91 204.5H94M91 208.5H94M91 212.5H94M91 220.5H94M91 224.5H94M91 228.5H94M91 236.5H94M91 240.5H94M91 245.5H94M91 253.5H94M91 257.5H94M91 261.5H94M91 269.5H94M91 273.5H94M91 277.5H94M91 285.5H94M91 290.5H94M91 294.5H94M91 302.5H94M91 306.5H94M91 310.5H94M91 318.5H94M91 322.5H94M91 326.5H94M91 334.5H94M91 338.5H94M91 342.5H94M91 350.5H94M91 354.5H94M91 359.5H94M91 367.5H94M91 371.5H94M91 375.5H94M91 383.5H94M91 387.5H94M91 391.5H94M91 399.5H94M91 404.5H94M91 408.5H94M91 416.5H94M91 420.5H94M91 424.5H94M91 432.5H94M91 436.5H94M91 440.5H94M106.5 446V449M118.5 446V449M129.5 446V449M153.5 446V449M164.5 446V449M176.5 446V449M200.5 446V449M212.5 446V449M223.5 446V449M247.5 446V449M258.5 446V449M270.5 446V449M294.5 446V449M306.5 446V449M317.5 446V449M341.5 446V449M352.5 446V449M364.5 446V449M388.5 446V449M400.5 446V449M411.5 446V449M435.5 446V449M446.5 446V449M458.5 446V449M482.5 446V449M494.5 446V449M505.5 446V449M529.5 446V449M540.5 446V449M552.5 446V449" stroke="#bababa" stroke-width="1" fill="none"/>
<text class="a" x="84.8" y="25.2" text-anchor="end" textLength="31.6" lengthAdjust="spacing">0,013</text>
<text class="a" x="84.8" y="41.2" text-anchor="end" textLength="31.6" lengthAdjust="spacing">0,012</text>
<text class="a" x="84.8" y="57.2" text-anchor="end" textLength="31.6" lengthAdjust="spacing">0,011</text>
<text class="a" x="84.8" y="74.2" text-anchor="end" textLength="24.7" lengthAdjust="spacing">0,01</text>
<text class="a" x="84.8" y="90.2" text-anchor="end" textLength="31.6" lengthAdjust="spacing">0,009</text>
<text class="a" x="84.8" y="106.2" text-anchor="end" textLength="31.6" lengthAdjust="spacing">0,008</text>
<text class="a" x="84.8" y="123.2" text-anchor="end" textLength="31.6" lengthAdjust="spacing">0,007</text>
<text class="a" x="84.8" y="139.2" text-anchor="end" textLength="31.6" lengthAdjust="spacing">0,006</text>
<text class="a" x="84.8" y="155.2" text-anchor="end" textLength="31.6" lengthAdjust="spacing">0,005</text>
<text class="a" x="84.8" y="171.2" text-anchor="end" textLength="31.6" lengthAdjust="spacing">0,004</text>
<text class="a" x="84.8" y="188.2" text-anchor="end" textLength="31.6" lengthAdjust="spacing">0,003</text>
<text class="a" x="84.8" y="204.2" text-anchor="end" textLength="31.6" lengthAdjust="spacing">0,002</text>
<text class="a" x="84.8" y="220.2" text-anchor="end" textLength="31.6" lengthAdjust="spacing">0,001</text>
<text class="a" x="84.8" y="236.2" text-anchor="end" textLength="7.0" lengthAdjust="spacing">0</text>
<text class="a" x="84.8" y="253.2" text-anchor="end" textLength="36.6" lengthAdjust="spacing">-0,001</text>
<text class="a" x="84.8" y="269.2" text-anchor="end" textLength="36.6" lengthAdjust="spacing">-0,002</text>
<text class="a" x="84.8" y="285.2" text-anchor="end" textLength="36.6" lengthAdjust="spacing">-0,003</text>
<text class="a" x="84.8" y="302.2" text-anchor="end" textLength="36.6" lengthAdjust="spacing">-0,004</text>
<text class="a" x="84.8" y="318.2" text-anchor="end" textLength="36.6" lengthAdjust="spacing">-0,005</text>
<text class="a" x="84.8" y="334.2" text-anchor="end" textLength="36.6" lengthAdjust="spacing">-0,006</text>
<text class="a" x="84.8" y="350.2" text-anchor="end" textLength="36.6" lengthAdjust="spacing">-0,007</text>
<text class="a" x="84.8" y="367.2" text-anchor="end" textLength="36.6" lengthAdjust="spacing">-0,008</text>
<text class="a" x="84.8" y="383.2" text-anchor="end" textLength="36.6" lengthAdjust="spacing">-0,009</text>
<text class="a" x="84.8" y="399.2" text-anchor="end" textLength="29.7" lengthAdjust="spacing">-0,01</text>
<text class="a" x="84.8" y="416.2" text-anchor="end" textLength="36.6" lengthAdjust="spacing">-0,011</text>
<text class="a" x="84.8" y="432.2" text-anchor="end" textLength="36.6" lengthAdjust="spacing">-0,012</text>
<text class="a" x="84.8" y="448.2" text-anchor="end" textLength="36.6" lengthAdjust="spacing">-0,013</text>
<text class="a" x="94.5" y="462.8" text-anchor="middle" textLength="36.6" lengthAdjust="spacing">-0,025</text>
<text class="a" x="141.5" y="462.8" text-anchor="middle" textLength="29.7" lengthAdjust="spacing">-0,02</text>
<text class="a" x="188.5" y="462.8" text-anchor="middle" textLength="36.6" lengthAdjust="spacing">-0,015</text>
<text class="a" x="235.5" y="462.8" text-anchor="middle" textLength="29.7" lengthAdjust="spacing">-0,01</text>
<text class="a" x="282.5" y="462.8" text-anchor="middle" textLength="36.6" lengthAdjust="spacing">-0,005</text>
<text class="a" x="329.5" y="462.8" text-anchor="middle" textLength="7.0" lengthAdjust="spacing">0</text>
<text class="a" x="376.5" y="462.8" text-anchor="middle" textLength="31.6" lengthAdjust="spacing">0,005</text>
<text class="a" x="423.5" y="462.8" text-anchor="middle" textLength="24.7" lengthAdjust="spacing">0,01</text>
<text class="a" x="470.5" y="462.8" text-anchor="middle" textLength="31.6" lengthAdjust="spacing">0,015</text>
<text class="a" x="517.5" y="462.8" text-anchor="middle" textLength="24.7" lengthAdjust="spacing">0,02</text>
<text class="a" x="564.5" y="462.8" text-anchor="middle" textLength="31.6" lengthAdjust="spacing">0,025</text>
<text x="329.7" y="476.5" text-anchor="middle" textLength="77" lengthAdjust="spacing">Δ Easting [m]</text>
<text transform="translate(40.2 231.5) rotate(-90)" text-anchor="middle" textLength="84" lengthAdjust="spacing">Δ Northing [m]</text>
<rect x="595" y="69" width="333.6" height="71.3" fill="#000"/>
<rect x="592.5" y="66.5" width="333" height="71" fill="#fff" stroke="#808080" stroke-width="1"/>
<path d="M613.5 70.5l4 8h-8z" fill="#0000ff"/>
<path d="M613.6 128l2.8 5.6h-5.6z" fill="#0000ff"/>
<path d="M597.5 88.5H628" stroke="#ff0000" stroke-width="2" stroke-dasharray="6 2" fill="none"/>
<path d="M597.5 102.5H628" stroke="#ffff00" stroke-width="2" stroke-dasharray="6 2" fill="none"/>
<path d="M597.5 116.5H628" stroke="#008000" stroke-width="2" stroke-dasharray="6 2" fill="none"/>
<text x="636.5" y="78.3" textLength="279.5" lengthAdjust="spacing">rtk engine [femern_vrs]_rri1 (Fixed or converged)</text>
<text x="636.5" y="92.3" textLength="45.5" lengthAdjust="spacing">0.100 m</text>
<text x="636.5" y="106.3" textLength="45.5" lengthAdjust="spacing">0.050 m</text>
<text x="636.5" y="120.3" textLength="45.5" lengthAdjust="spacing">0.020 m</text>
<text x="636.5" y="134.3" textLength="279.5" lengthAdjust="spacing">rtk engine [femern_vrs]_rri1 (Fixed or converged)</text>
</svg>
</body></html>
